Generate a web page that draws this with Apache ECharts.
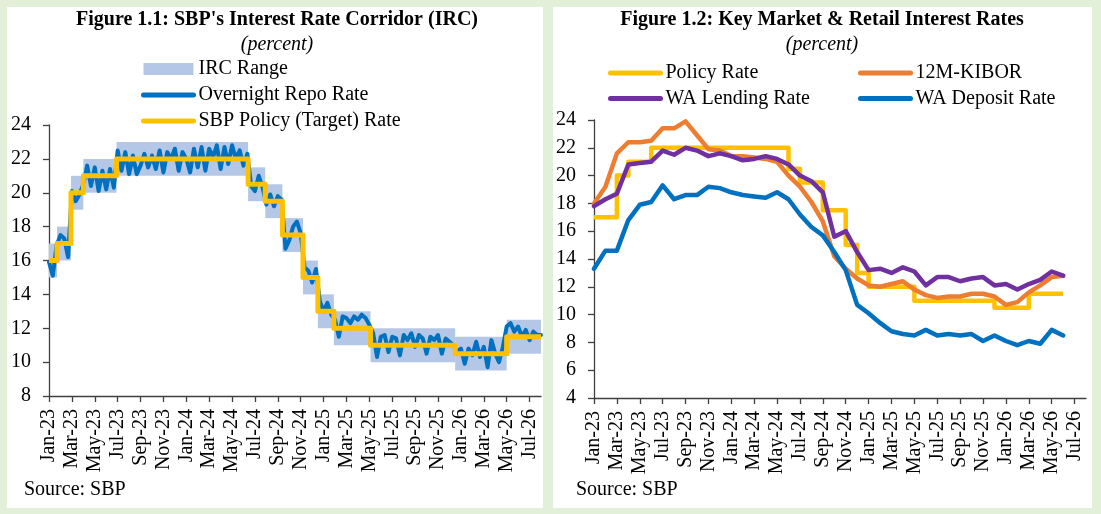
<!DOCTYPE html>
<html>
<head>
<meta charset="utf-8">
<script src="https://cdn.jsdelivr.net/npm/echarts@6/dist/echarts.min.js"></script>
<style>
  html, body { margin: 0; padding: 0; background: #e2efd9; }
  #main { width: 1101px; height: 514px; }
</style>
</head>
<body>
<div id="main"></div>
<script>
// ---------- Figure 1.1 (x = months since Jan-23) ----------
var tickLabels = ['Jan-23', 'Mar-23', 'May-23', 'Jul-23', 'Sep-23', 'Nov-23',
  'Jan-24', 'Mar-24', 'May-24', 'Jul-24', 'Sep-24', 'Nov-24',
  'Jan-25', 'Mar-25', 'May-25', 'Jul-25', 'Sep-25', 'Nov-25',
  'Jan-26', 'Mar-26', 'May-26', 'Jul-26'];
var tickMonths = [0, 2, 4, 6, 8, 10, 12, 14, 16, 18, 20, 22, 24, 26, 28, 30, 32, 34, 36, 38, 40, 42];

var policyChangeMonth = [0, 0.7, 1.92, 3.0, 5.9, 17.4, 18.9, 20.4, 22.2, 23.5, 24.9, 28.1, 35.5, 40.0];
var policyRate = [16, 17, 20, 21, 22, 20.5, 19.5, 17.5, 15, 13, 12, 11, 10.5, 11.5];
var ircFloor = [15, 16, 19, 20, 21, 19.5, 18.5, 16.5, 14, 12, 11, 10, 9.5, 10.5];
var ircCeiling = [17, 18, 21, 22, 23, 21.5, 20.5, 18.5, 16, 14, 13, 12, 11.5, 12.5];
var lastMonth = 43;

// overnight repo, sampled every third of a month from Jan-23
var repoStep = 1 / 3;
var repoRate = [
  15.9, 15.1, 16.9, 17.5, 17.3, 16.2, 20.1, 19.5, 19.9, 20.5,
  21.6, 20.4, 21.5, 20.1, 21.3, 20.2, 21.4, 20.3, 22.5, 21.3,
  22.4, 21.1, 22.2, 21.1, 21.6, 22.3, 21.5, 22.2, 21.4, 22.5,
  21.2, 22.4, 22.0, 22.6, 21.3, 22.4, 22.0, 21.2, 22.6, 21.5,
  22.7, 21.3, 22.6, 22.1, 22.8, 21.4, 22.7, 21.7, 22.8, 22.0,
  22.5, 21.6, 22.3, 20.4, 20.1, 21.0, 20.3, 19.3, 19.9, 19.2,
  19.8, 19.6, 16.7, 17.2, 18.0, 18.3, 17.6, 15.6, 15.4, 14.7,
  15.5, 13.6, 13.0, 13.5, 12.8, 12.5, 11.5, 12.7, 12.6, 12.3,
  12.7, 12.5, 12.8, 12.6, 12.2, 11.7, 10.3, 11.5, 11.6, 10.6,
  11.5, 11.4, 10.4, 11.6, 11.3, 11.7, 10.9, 11.6, 11.4, 10.5,
  11.5, 11.3, 11.6, 10.5, 11.4, 11.2, 11.0, 10.6, 10.8, 9.9,
  10.8, 10.4, 11.2, 10.3, 10.9, 9.7, 11.3, 10.5, 10.0, 10.9,
  12.1, 12.3, 11.8, 12.1, 11.5, 11.9, 11.3, 11.8, 11.6, 11.6
];

// ---------- Figure 1.2 (monthly) ----------
var months = ['Jan-23', 'Feb-23', 'Mar-23', 'Apr-23', 'May-23', 'Jun-23', 'Jul-23', 'Aug-23', 'Sep-23', 'Oct-23', 'Nov-23', 'Dec-23',
  'Jan-24', 'Feb-24', 'Mar-24', 'Apr-24', 'May-24', 'Jun-24', 'Jul-24', 'Aug-24', 'Sep-24', 'Oct-24', 'Nov-24', 'Dec-24',
  'Jan-25', 'Feb-25', 'Mar-25', 'Apr-25', 'May-25', 'Jun-25', 'Jul-25', 'Aug-25', 'Sep-25', 'Oct-25', 'Nov-25', 'Dec-25',
  'Jan-26', 'Feb-26', 'Mar-26', 'Apr-26', 'May-26', 'Jun-26', 'Jul-26', 'Aug-26'];
var policyMonthly = [17, 17, 20, 21, 21, 22, 22, 22, 22, 22, 22, 22,
  22, 22, 22, 22, 22, 20.5, 19.5, 19.5, 17.5, 17.5, 15, 13,
  12, 12, 12, 12, 11, 11, 11, 11, 11, 11, 11, 10.5,
  10.5, 10.5, 11.5, 11.5, 11.5, 11.5];
var kibor12m = [18.0, 19.2, 21.6, 22.4, 22.4, 22.5, 23.4, 23.4, 23.9, 22.9, 21.9, 21.8,
  21.4, 21.4, 21.3, 21.2, 21.0, 20.0, 19.2, 18.1, 16.7, 14.2, 13.3, 12.6,
  12.1, 12.0, 12.2, 12.4, 11.8, 11.4, 11.2, 11.3, 11.3, 11.5, 11.5, 11.3,
  10.7, 10.9, 11.6, 12.1, 12.7, 12.8];
var waLending = [17.8, 18.3, 18.7, 20.8, 20.9, 21.0, 21.8, 21.5, 22.0, 21.8, 21.4, 21.6,
  21.4, 21.1, 21.2, 21.4, 21.2, 20.8, 20.0, 19.6, 18.8, 15.6, 16.0, 14.5,
  13.2, 13.3, 13.0, 13.4, 13.1, 12.1, 12.7, 12.7, 12.4, 12.6, 12.7, 12.1,
  12.2, 11.8, 12.2, 12.5, 13.1, 12.8];
var waDeposit = [13.3, 14.6, 14.6, 16.8, 17.9, 18.1, 19.3, 18.3, 18.6, 18.6, 19.2, 19.1,
  18.8, 18.6, 18.5, 18.4, 18.8, 18.3, 17.2, 16.3, 15.7, 14.5, 13.2, 10.7,
  10.1, 9.4, 8.8, 8.6, 8.5, 8.9, 8.5, 8.6, 8.5, 8.6, 8.1, 8.5,
  8.1, 7.8, 8.1, 7.9, 8.9, 8.5];

// ---------- build ----------
var serif = '"Liberation Serif", "Times New Roman", serif';
var axisColor = '#404040';

var policySteps = policyChangeMonth.map(function (m, i) { return [m, policyRate[i]]; });
policySteps.push([lastMonth, policyRate[policyRate.length - 1]]);

var ircBands = policyChangeMonth.map(function (m, i) {
  var end = i < policyChangeMonth.length - 1 ? policyChangeMonth[i + 1] : lastMonth;
  return [m, end, ircFloor[i], ircCeiling[i]];
});

var repoPoints = repoRate.map(function (v, i) { return [i * repoStep, v]; });

function yAxisOf(grid, min, max) {
  return {
    type: 'value', gridIndex: grid, min: min, max: max, interval: 2,
    axisLine: { show: true, lineStyle: { color: axisColor, width: 1.3 } },
    axisTick: { show: true, length: 6, lineStyle: { color: axisColor, width: 1.3 } },
    axisLabel: { margin: 18, color: '#000', fontSize: 20, fontFamily: serif },
    splitLine: { show: false }
  };
}

var labelStyle = { rotate: 90, margin: 13, color: '#000', fontSize: 20, fontFamily: serif };

var legendBase = {
  orient: 'vertical', padding: 0, itemWidth: 50, itemHeight: 12, itemGap: 6,
  selectedMode: false,
  lineStyle: { width: 5, cap: 'round' },
  textStyle: { fontSize: 20, lineHeight: 20, fontFamily: serif, color: '#000' }
};

// legend entry drawn as a plain line (hide the centre marker)
function lineItem(name) {
  return { name: name, itemStyle: { opacity: 0 } };
}

function text(x, y, str, font) {
  return {
    type: 'text', x: x, y: y, z: 100,
    style: { text: str, font: font, fill: '#000', align: 'center', verticalAlign: 'middle' }
  };
}

var chart = echarts.init(document.getElementById('main'));
chart.setOption({
  backgroundColor: '#e2efd9',
  animation: false,
  graphic: [
    { type: 'rect', z: -10, shape: { x: 7, y: 7, width: 536, height: 501 }, style: { fill: '#fff' } },
    { type: 'rect', z: -10, shape: { x: 553, y: 7, width: 539, height: 501 }, style: { fill: '#fff' } },
    text(277, 20, "Figure 1.1: SBP's Interest Rate Corridor (IRC)", 'bold 20px ' + serif),
    text(277, 45, '(percent)', 'italic 20px ' + serif),
    text(822, 20, 'Figure 1.2: Key Market & Retail Interest Rates', 'bold 20px ' + serif),
    text(822, 45, '(percent)', 'italic 20px ' + serif),
    { type: 'text', x: 24, y: 490, z: 100, style: { text: 'Source: SBP', font: '20px ' + serif, fill: '#000', verticalAlign: 'middle' } },
    { type: 'text', x: 576, y: 490, z: 100, style: { text: 'Source: SBP', font: '20px ' + serif, fill: '#000', verticalAlign: 'middle' } }
  ],
  legend: [
    Object.assign({}, legendBase, {
      left: 141, top: 59,
      data: [{ name: 'IRC Range', icon: 'rect' }, lineItem('Overnight Repo Rate'), lineItem('SBP Policy (Target) Rate')]
    }),
    Object.assign({}, legendBase, { left: 608, top: 63, itemGap: 5.6, data: [lineItem('Policy Rate'), lineItem('WA Lending Rate')] }),
    Object.assign({}, legendBase, { left: 858, top: 63, itemGap: 5.6, data: [lineItem('12M-KIBOR'), lineItem('WA Deposit Rate')] })
  ],
  grid: [
    { left: 49, top: 125, width: 492, height: 271 },
    { left: 594, top: 120, width: 492, height: 278 }
  ],
  xAxis: [
    {
      type: 'value', gridIndex: 0, min: 0, max: lastMonth, interval: 2,
      axisLine: { lineStyle: { color: axisColor, width: 1.3 } },
      axisTick: { show: true, customValues: tickMonths, length: 6, lineStyle: { color: axisColor, width: 1.3 } },
      axisLabel: Object.assign({}, labelStyle, {
        customValues: tickMonths,
        formatter: function (v) { var k = tickMonths.indexOf(v); return k < 0 ? '' : tickLabels[k]; }
      }),
      splitLine: { show: false }
    },
    {
      type: 'category', gridIndex: 1, data: months, boundaryGap: false,
      axisLine: { lineStyle: { color: axisColor, width: 1.3 } },
      axisTick: { show: true, interval: 1, length: 6, lineStyle: { color: axisColor, width: 1.3 } },
      axisLabel: Object.assign({}, labelStyle, { interval: 1 }),
      splitLine: { show: false }
    }
  ],
  yAxis: [yAxisOf(0, 8, 24), yAxisOf(1, 4, 24)],
  series: [
    {
      name: 'IRC Range', type: 'custom', xAxisIndex: 0, yAxisIndex: 0,
      itemStyle: { color: '#b4c7e7' },
      encode: { x: [0, 1], y: [2, 3] },
      data: ircBands,
      renderItem: function (params, api) {
        var a = api.coord([api.value(0), api.value(3)]);
        var b = api.coord([api.value(1), api.value(2)]);
        return {
          type: 'rect',
          shape: { x: a[0], y: a[1], width: b[0] - a[0], height: b[1] - a[1] },
          style: { fill: '#b4c7e7' }
        };
      }
    },
    {
      name: 'Overnight Repo Rate', type: 'line', xAxisIndex: 0, yAxisIndex: 0,
      data: repoPoints, symbol: 'none', color: '#0070c0',
      lineStyle: { width: 4, color: '#0070c0', cap: 'round', join: 'round' }
    },
    {
      name: 'SBP Policy (Target) Rate', type: 'line', xAxisIndex: 0, yAxisIndex: 0,
      data: policySteps, step: 'end', symbol: 'none', color: '#ffc000',
      lineStyle: { width: 5, color: '#ffc000', join: 'round' }
    },
    {
      name: 'Policy Rate', type: 'line', xAxisIndex: 1, yAxisIndex: 1,
      data: policyMonthly, step: 'end', symbol: 'none', color: '#ffc000',
      lineStyle: { width: 4.5, color: '#ffc000', join: 'round' }
    },
    {
      name: '12M-KIBOR', type: 'line', xAxisIndex: 1, yAxisIndex: 1,
      data: kibor12m, symbol: 'none', color: '#ed7d31',
      lineStyle: { width: 4.5, color: '#ed7d31', cap: 'round', join: 'round' }
    },
    {
      name: 'WA Lending Rate', type: 'line', xAxisIndex: 1, yAxisIndex: 1,
      data: waLending, symbol: 'none', color: '#7030a0',
      lineStyle: { width: 4.5, color: '#7030a0', cap: 'round', join: 'round' }
    },
    {
      name: 'WA Deposit Rate', type: 'line', xAxisIndex: 1, yAxisIndex: 1,
      data: waDeposit, symbol: 'none', color: '#0070c0',
      lineStyle: { width: 4.5, color: '#0070c0', cap: 'round', join: 'round' }
    }
  ]
});
</script>
</body>
</html>
